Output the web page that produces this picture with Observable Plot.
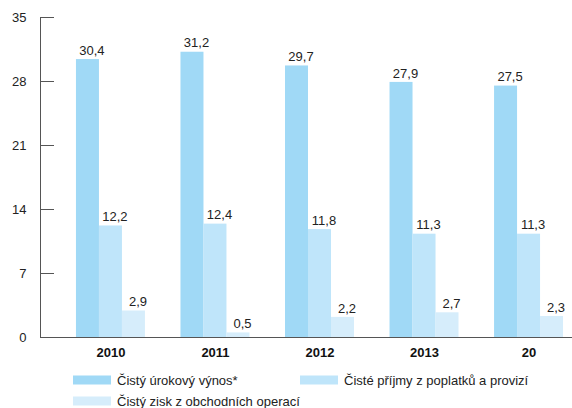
<!DOCTYPE html>
<html>
<head>
<meta charset="utf-8">
<script src="https://cdn.jsdelivr.net/npm/d3@7"></script>
<script src="https://cdn.jsdelivr.net/npm/@observablehq/plot@0.6"></script>
<style>
  body { margin: 0; background: #fff; font-family: "Liberation Sans", Arial, sans-serif; }
  #wrap { position: relative; width: 572px; height: 408px; overflow: hidden; }
  #chart svg { display: block; }
  .item { position: absolute; display: flex; align-items: center; font-size: 13px; color: #222; white-space: nowrap; transform: translateY(-50%); }
  .sw { display: inline-block; flex: none; width: 38px; height: 9px; margin-right: 6px; }
</style>
</head>
<body>
<div id="wrap">
  <div id="chart"></div>
  <div id="legend"></div>
</div>
<script>
// Categories and series values
const years = ["2010", "2011", "2012", "2013", "20"];
const seriesNames = [
  "Čistý úrokový výnos*",
  "Čisté příjmy z poplatků a provizí",
  "Čistý zisk z obchodních operací"
];
const urokovyVynos = [30.4, 31.2, 29.7, 27.9, 27.5];
const poplatkyProvize = [12.2, 12.4, 11.8, 11.3, 11.3];
const obchodniZisk = [2.9, 0.5, 2.2, 2.7, 2.3];
const yTicks = [0, 7, 14, 21, 28, 35];
const colors = ["#a0d9f6", "#bfe5fa", "#d6edfb"];

const seriesValues = [urokovyVynos, poplatkyProvize, obchodniZisk];
const rows = seriesValues.map((vals, s) =>
  years.map((year, k) => ({ year, series: seriesNames[s], s, value: vals[k] }))
);

const fmt = v => d3.format(".1f")(v).replace(".", ",");

// Band scale for the year groups; each group holds three bars side by side
const xRange = [40, 599];
const padInner = 0.34, padOuter = 0.344;
const band = d3.scaleBand(years, xRange).paddingInner(padInner).paddingOuter(padOuter);
const w = band.bandwidth() / 3;

const marks = [];
rows.forEach((data, s) => {
  marks.push(Plot.barY(data, {
    x: "year", y: "value", fill: colors[s],
    insetLeft: s * w, insetRight: (2 - s) * w
  }));
});
rows.forEach((data, s) => {
  marks.push(Plot.text(data, {
    x: "year", y: "value", text: d => fmt(d.value),
    dx: (s - 1) * w + 4, lineAnchor: "middle", dy: -9,
    fontSize: 13, fill: "#222"
  }));
});

const chart = Plot.plot({
  width: 572,
  height: 368,
  marginLeft: 40,
  marginRight: 0,
  marginTop: 17,
  marginBottom: 31,
  style: { fontFamily: "Liberation Sans, Arial, sans-serif", background: "#fff" },
  x: { type: "band", domain: years, range: xRange, paddingInner: padInner, paddingOuter: padOuter, round: false },
  y: { domain: [0, 35] },
  marks: [
    ...marks,
    Plot.axisY(yTicks, { tickSize: -14, tickPadding: 28, fontSize: 13, stroke: "#555", color: "#222", label: null }),
    Plot.axisX({ tickSize: 0, tickPadding: 10, fontSize: 13, fontWeight: "bold", color: "#111", label: null }),
    Plot.frame({ anchor: "left", stroke: "#555" }),
    Plot.ruleY([0], { stroke: "#555" })
  ]
});
document.getElementById("chart").appendChild(chart);

// Legend below the plot
const legendPos = [[73, 380], [300, 380], [73, 401]];
const legend = document.getElementById("legend");
seriesNames.forEach((name, s) => {
  const item = document.createElement("div");
  item.className = "item";
  item.style.left = legendPos[s][0] + "px";
  item.style.top = legendPos[s][1] + "px";
  const sw = document.createElement("span");
  sw.className = "sw";
  sw.style.background = colors[s];
  const label = document.createElement("span");
  label.textContent = name;
  item.append(sw, label);
  legend.appendChild(item);
});
</script>
</body>
</html>
